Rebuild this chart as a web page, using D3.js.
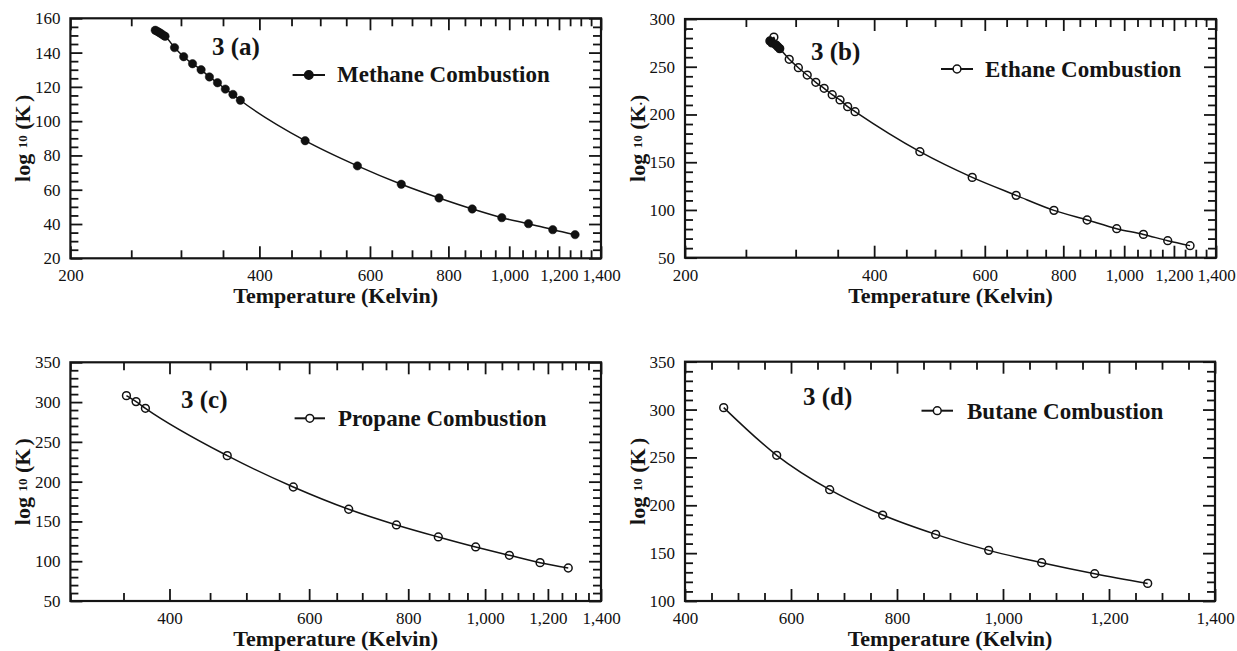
<!DOCTYPE html>
<html><head><meta charset="utf-8">
<script src="https://cdn.jsdelivr.net/npm/d3@7"></script>
<style>body{margin:0;background:#fff}svg{display:block}</style>
</head><body>
<svg id="c" width="1237" height="651"></svg>
<script>
// ---------- data ----------
const methaneT = [273,275,277,279,281,283,293,303,313,323,333,343,353,363,373,473,573,673,773,873,973,1073,1173,1273];
const methaneK = [153.0,152.4,151.7,151.0,150.2,149.5,142.9,137.6,133.5,130.0,125.8,122.4,118.7,115.6,112.2,88.6,73.9,63.2,55.2,48.8,43.7,40.2,36.7,33.8];
const ethaneT  = [273,275,277,279,281,283,293,303,313,323,333,343,353,363,373,473,573,673,773,873,973,1073,1173,1273];
const ethaneK  = [277,275,281,273,271,269,257.8,249.0,241.3,233.7,227.4,220.7,215.2,208.2,202.9,161.0,134.1,115.3,99.6,89.5,80.4,74.4,67.8,62.6];
const propaneT = [353,363,373,473,573,673,773,873,973,1073,1173,1273];
const propaneK = [308.1,300.6,292.2,232.7,193.3,165.3,145.6,130.5,117.9,107.4,98.2,91.5];
const butaneT  = [473,573,673,773,873,973,1073,1173,1273];
const butaneK  = [302.0,252.2,216.3,189.8,169.6,152.9,140.0,128.5,118.4];
const xTickValsAB = [200,400,600,800,1000,1200,1400];
const xTickValsC  = [400,600,800,1000,1200,1400];
const xTickValsD  = [400,600,800,1000,1200,1400];
const yTicksA = [20,40,60,80,100,120,140,160];
const yTicksB = [50,100,150,200,250,300];
const yTicksC = [50,100,150,200,250,300,350];
const yTicksD = [100,150,200,250,300,350];
const panelTags = ["3 (a)","3 (b)","3 (c)","3 (d)"];
const legendNames = ["Methane Combustion","Ethane Combustion","Propane Combustion","Butane Combustion"];
const xTitle = "Temperature (Kelvin)";

// ---------- layout ----------
const svg = d3.select("#c");
const FONT = "'Liberation Serif','Times New Roman',serif";
const INK = "#141414";
const fmt = d3.format(",");

const panels = [
  {T:methaneT,K:methaneK,filled:true, xType:"log",xDom:[200,1400],xTicks:xTickValsAB,yDom:[20,160],yTicks:yTicksA,yMinor:5,
   box:[70.4,18.3,601,258.3],tag:[212,55],leg:[292.6,325,75,337,82],kSub:" "},
  {T:ethaneT,K:ethaneK,filled:false,xType:"log",xDom:[200,1400],xTicks:xTickValsAB,yDom:[50,300],yTicks:yTicksB,yMinor:10,
   box:[685,19,1216,257.7],tag:[811,60],leg:[941,973,69,985,77],kSub:"."},
  {T:propaneT,K:propaneK,filled:false,xType:"log",xDom:[300,1400],xTicks:xTickValsC,yDom:[50,350],yTicks:yTicksC,yMinor:10,
   box:[70.4,362.3,601,601],tag:[181,408],leg:[294.6,325,418.3,338,425.5],kSub:" "},
  {T:butaneT,K:butaneK,filled:false,xType:"linear",xDom:[400,1400],xTicks:xTickValsD,yDom:[100,350],yTicks:yTicksD,yMinor:10,
   box:[685,361.7,1215,601],tag:[803,405],leg:[921.5,953,410.7,967,418.5],kSub:" "}
];

panels.forEach((p,i)=>{
  const [x0,y0,x1,y1] = p.box;
  const x = (p.xType==="log"?d3.scaleLog():d3.scaleLinear()).domain(p.xDom).range([x0,x1]);
  const y = d3.scaleLinear().domain(p.yDom).range([y1,y0]);
  const g = svg.append("g");

  const xMinor = d3.range(Math.ceil(p.xDom[0]/50)*50, p.xDom[1]+1, 50).filter(v=>!p.xTicks.includes(v));
  const yMinor = d3.range(p.yDom[0], p.yDom[1]+0.001, p.yMinor).filter(v=>!p.yTicks.includes(v));

  // frame
  g.append("rect").attr("x",x0).attr("y",y0).attr("width",x1-x0).attr("height",y1-y0)
    .attr("fill","none").style("stroke",INK).style("stroke-width","2.2px");

  // axes with inward ticks (minor then major), mirrored on top/right
  const mk = (axisFn, scale, vals, len, tr, labels, pad, f) => {
    const a = g.append("g").attr("transform",tr)
      .call(axisFn(scale).tickValues(vals).tickSizeInner(-len).tickSizeOuter(0).tickPadding(pad||3)
        .tickFormat(labels ? f : (()=>"")));
    a.select(".domain").remove();
    a.selectAll(".tick line").attr("stroke",INK).attr("stroke-width",1.8);
    a.selectAll(".tick text").attr("font-family",FONT).attr("font-size",17).attr("fill","#111");
    return a;
  };
  mk(d3.axisBottom, x, xMinor, 8, `translate(0,${y1})`);
  mk(d3.axisBottom, x, p.xTicks, 12, `translate(0,${y1})`, true, 11, fmt);
  mk(d3.axisTop, x, xMinor, 8, `translate(0,${y0})`);
  mk(d3.axisTop, x, p.xTicks, 12, `translate(0,${y0})`);
  mk(d3.axisLeft, y, yMinor, 8, `translate(${x0},0)`);
  mk(d3.axisLeft, y, p.yTicks, 12, `translate(${x0},0)`, true, 10, d3.format("d"));
  mk(d3.axisRight, y, yMinor, 8, `translate(${x1},0)`);
  mk(d3.axisRight, y, p.yTicks, 12, `translate(${x1},0)`);

  // data
  const pts = p.T.map((t,j)=>[t,p.K[j]]);
  const px = pts.map(d=>[x(d[0]),y(d[1])]);
  const crowded = px.map((a,j)=>px.some((b,k)=>k!==j && Math.hypot(a[0]-b[0],a[1]-b[1])<4));
  g.append("path").datum(pts)
    .attr("d",d3.line().x(d=>x(d[0])).y(d=>y(d[1])).curve(d3.curveMonotoneX))
    .attr("fill","none").style("stroke",INK).style("stroke-width","1.5px");
  g.selectAll("circle.pt").data(pts).join("circle").attr("class","pt")
    .attr("cx",d=>x(d[0])).attr("cy",d=>y(d[1]))
    .attr("r",p.filled?4.2:3.9)
    .attr("fill",(d,j)=>(p.filled||crowded[j])?"#111":"none")
    .style("stroke","#111").style("stroke-width",p.filled?"0.5px":"1.5px");

  // panel tag
  g.append("text").attr("x",p.tag[0]).attr("y",p.tag[1]).text(panelTags[i])
    .attr("font-family",FONT).attr("font-size",25).attr("font-weight","bold").attr("fill",INK);

  // legend
  const [lx0,lx1,lly,tx,ty] = p.leg;
  g.append("line").attr("x1",lx0).attr("x2",lx1).attr("y1",lly).attr("y2",lly).style("stroke",INK).style("stroke-width","2px");
  g.append("circle").attr("cx",(lx0+lx1)/2).attr("cy",lly).attr("r",p.filled?4.2:3.9)
    .attr("fill",p.filled?"#111":"#fff").style("stroke","#111").style("stroke-width","1.5px");
  g.append("text").attr("x",tx).attr("y",ty).text(legendNames[i])
    .attr("font-family",FONT).attr("font-size",23).attr("font-weight","bold").attr("fill",INK);

  // x title
  g.append("text").attr("x",(x0+x1)/2).attr("y",y1+45).attr("text-anchor","middle").text(xTitle)
    .attr("font-family",FONT).attr("font-size",22).attr("font-weight","bold").attr("fill",INK);

  // y title
  const yt = g.append("text").attr("transform",`translate(${x0-48.5},${(y0+y1)/2}) rotate(-90)`)
    .attr("text-anchor","middle").attr("dominant-baseline","central")
    .attr("font-family",FONT).attr("font-weight","bold").attr("font-size",22).attr("fill",INK);
  yt.append("tspan").text("log ");
  yt.append("tspan").attr("font-size",13).text("10");
  yt.append("tspan").text(" (K");
  yt.append("tspan").attr("font-size",13).text(p.kSub);
  yt.append("tspan").text(")");
});
</script>
</body></html>
